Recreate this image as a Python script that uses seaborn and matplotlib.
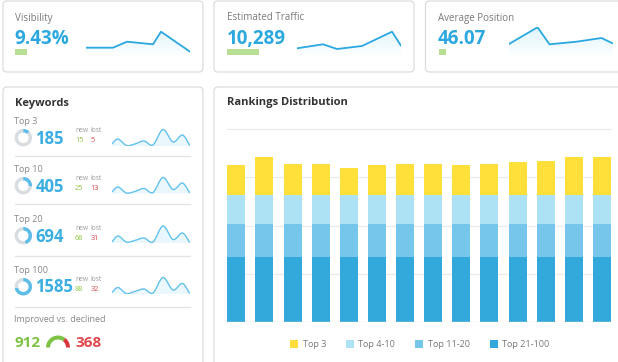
import numpy as np
import pandas as pd
import matplotlib
matplotlib.use("Agg")
import matplotlib.pyplot as plt
import seaborn as sns
from matplotlib.patches import FancyBboxPatch, Wedge, Rectangle, PathPatch, Patch
from matplotlib.path import Path
from matplotlib.colors import LinearSegmentedColormap

sns.set_theme(style="white")
plt.rcParams["font.family"] = ["Open Sans", "DejaVu Sans"]

# ---------------- data ----------------
card_titles = ["Visibility", "Estimated Traffic", "Average Position"]
card_values = ["9.43%", "10,289", "46.07"]
card_change = [12, 32, 7]

vis_x = [0, 27, 41, 67, 75, 104]
vis_vals = [10.3, 10.3, 16.3, 13.7, 26.3, 6.3]
traffic_x = [0, 26, 40, 65, 95, 104]
traffic_vals = [9.7, 13.7, 9.0, 12.0, 26.3, 12.3]
pos_x = [0, 29, 41, 68, 93, 104]
pos_vals = [13.7, 30.7, 13.7, 16.3, 20.0, 14.7]

kw_labels = ["Top 3", "Top 10", "Top 20", "Top 100"]
kw_counts = ["185", "405", "694", "1585"]
kw_new = ["15", "25", "68", "88"]
kw_lost = ["5", "13", "31", "32"]
kw_share = [0.12, 0.26, 0.45, 0.72]
kw_x = [0, 6, 14.4, 22.7, 32, 41, 51, 61, 70.4, 77.7]
kw_trend1 = [2.0, 7.0, 0.5, 2.0, 5.0, 1.0, 16.5, 4.0, 11.0, 0.5]
kw_trend2 = [1.5, 6.5, 0.5, 2.0, 5.0, 1.0, 16.0, 4.0, 10.5, 0.5]
kw_trend3 = [1.0, 7.0, 1.0, 2.5, 5.0, 1.0, 17.0, 3.5, 10.0, 0.5]
kw_trend4 = [1.5, 6.5, 0.5, 2.5, 5.0, 1.0, 16.5, 4.0, 10.5, 0.5]
improved = 912
declined = 368

periods = [f"P{i}" for i in range(1, 15)]
top3 = [62, 79, 63, 63, 55, 62, 63, 63, 62, 63, 67, 70, 78, 78]
top4_10 = [60] * 14
top11_20 = [69] * 14
top21_100 = [135] * 14
series_names = ["Top 3", "Top 4-10", "Top 11-20", "Top 21-100"]
series_colors = ["#FFE03A", "#ADE2F5", "#75C6EA", "#33A9DB"]

# ---------------- figure ----------------
W, H = 618, 362
fig = plt.figure(figsize=(W / 100, H / 100), dpi=100)
fig.patch.set_facecolor("white")

bg = fig.add_axes([0, 0, 1, 1])
bg.set_xlim(0, W)
bg.set_ylim(H, 0)
bg.axis("off")
bg.set_zorder(0)


def fax(x0, y0, x1, y1, z=2):
    a = fig.add_axes([x0 / W, 1 - y1 / H, (x1 - x0) / W, (y1 - y0) / H])
    a.set_zorder(z)
    a.patch.set_alpha(0)
    a.axis("off")
    return a


def card(x0, y0, x1, y1):
    bg.add_patch(FancyBboxPatch((x0, y0), x1 - x0, y1 - y0,
                                boxstyle="round,pad=0,rounding_size=4",
                                ec="#dcdcdc", fc="white", lw=0.9))


BLUE = "#2BA8E0"
GREY = "#7a7a7a"
DARK = "#333333"
GREEN_T = "#7DC243"
RED_T = "#E0474C"

# top cards
card(3, 1, 203, 72)
card(214, 1, 414, 72)
card(425.5, 1, 640, 72)
card(3, 87, 203, 420)
card(214, 87, 640, 420)

card_x = [15, 227.3, 438.5]
for i in range(3):
    bg.text(card_x[i], 20.5, card_titles[i], fontsize=7, color=GREY, va="baseline", ha="left")
    bg.text(card_x[i] - 0.5, 44, card_values[i], fontsize=13.5, fontweight="bold",
            color=BLUE, va="baseline", ha="left")
    bg.add_patch(Rectangle((card_x[i], 49.3), card_change[i], 6, fc="#B8DE92", ec="none"))

cmap = LinearSegmentedColormap.from_list("g", ["#ffffff", "#dff5fd"])


def spark(ax, x, y, ytop):
    ax.fill_between(x, y, 0, color="none", lw=0)
    poly = ax.collections[-1]
    grad = np.linspace(1, 0, 256).reshape(-1, 1)
    im = ax.imshow(grad, extent=[min(x), max(x), 0, ytop], origin="upper",
                   aspect="auto", cmap=cmap, vmin=0, vmax=1, zorder=1)
    im.set_clip_path(poly.get_paths()[0], transform=ax.transData)
    sns.lineplot(x=x, y=y, ax=ax, color=BLUE, lw=1.3, zorder=3)
    ax.set_xlim(min(x), max(x))
    ax.set_ylim(0, ytop)
    ax.axis("off")


spark(fax(86, 27, 190, 58), vis_x, vis_vals, 31)
spark(fax(297, 27, 401, 58), traffic_x, traffic_vals, 31)
spark(fax(508.5, 27, 612.5, 58), pos_x, pos_vals, 31)

# ---------------- keywords panel ----------------
bg.text(15.5, 105.7, "Keywords", fontsize=8, fontweight="bold", color=DARK, va="baseline")
label_base = [123.7, 172.3, 221.5, 272.7]
donut_y = [137.7, 185.7, 235.7, 286.7]
spark_base = [146, 193.5, 243, 294]
sep_y = [155.7, 204, 255.7, 307]
trends = [kw_trend1, kw_trend2, kw_trend3, kw_trend4]


def smooth(x, y):
    pts = np.column_stack([x, y]).astype(float)
    verts = [pts[0]]
    codes = [Path.MOVETO]
    n = len(pts)
    for i in range(n - 1):
        p0 = pts[max(i - 1, 0)]
        p1 = pts[i]
        p2 = pts[i + 1]
        p3 = pts[min(i + 2, n - 1)]
        verts += [p1 + (p2 - p0) / 6, p2 - (p3 - p1) / 6, p2]
        codes += [Path.CURVE4] * 3
    return verts, codes


for i in range(4):
    yc = donut_y[i]
    bg.text(13.7, label_base[i], kw_labels[i], fontsize=6.5, color="#888888", va="baseline")
    bg.add_patch(Wedge((23.3, yc), 8.7, 0, 360, width=3.4, fc="#D8DDE2", ec="none"))
    bg.add_patch(Wedge((23.3, yc), 8.7, -90, -90 + 360 * kw_share[i], width=3.4,
                       fc="#5CBDE9", ec="none"))
    bg.text(35.5, yc + 5.8, kw_counts[i], fontsize=12, fontweight="bold", color="#3AAEE2",
            va="baseline")
    bg.text(75, yc - 5.4, "new", fontsize=4.8, color="#999999", va="baseline")
    bg.text(90.5, yc - 5.4, "lost", fontsize=4.8, color="#999999", va="baseline")
    bg.text(75, yc + 4.0, kw_new[i], fontsize=5.3, color="#8DC63F", va="baseline")
    bg.text(90.5, yc + 4.0, kw_lost[i], fontsize=5.3, color=RED_T, va="baseline")
    bg.plot([15, 190], [sep_y[i], sep_y[i]], color="#E4E4E4", lw=1)

    ax = fax(112, spark_base[i] - 18, 190, spark_base[i])
    v, c = smooth(kw_x, trends[i])
    fv = v + [(kw_x[-1], 0), (kw_x[0], 0), (kw_x[0], trends[i][0])]
    fc_ = c + [Path.LINETO, Path.LINETO, Path.CLOSEPOLY]
    ax.add_patch(PathPatch(Path(fv, fc_), fc="#EAF8FD", ec="none", zorder=1))
    ax.add_patch(PathPatch(Path(v, c), fill=False, ec="#62C2EC", lw=1.0, zorder=2))
    ax.set_xlim(0, 78)
    ax.set_ylim(0, 18)

bg.text(13.7, 322, "Improved vs. declined", fontsize=6.5, color="#888888", va="baseline")
bg.text(14.5, 346.7, str(improved), fontsize=11, fontweight="bold", color=GREEN_T,
        va="baseline")
bg.text(75.5, 346.7, str(declined), fontsize=11, fontweight="bold", color=RED_T,
        va="baseline")
g = improved / (improved + declined)
bg.add_patch(Wedge((58, 347.5), 12, -180, -180 * (1 - g), width=4, fc="#7DC243", ec="none"))
bg.add_patch(Wedge((58, 347.5), 12, -180 * (1 - g), 0, width=4, fc="#D9363E", ec="none"))

# ---------------- rankings distribution ----------------
bg.text(227.3, 105.2, "Rankings Distribution", fontsize=8, fontweight="bold", color=DARK,
        va="baseline")

rax = fig.add_axes([227.3 / W, 1 - 321.7 / H, 383.7 / W, 192.4 / H])
rax.set_zorder(2)
rax.patch.set_alpha(0)

df = pd.DataFrame({"period": periods, "top3": top3, "top4_10": top4_10,
                   "top11_20": top11_20, "top21_100": top21_100})
df["c4"] = df["top21_100"]
df["c3"] = df["c4"] + df["top11_20"]
df["c2"] = df["c3"] + df["top4_10"]
df["c1"] = df["c2"] + df["top3"]

for col, colr in zip(["c1", "c2", "c3", "c4"], series_colors):
    sns.barplot(data=df, x="period", y=col, color=colr, saturation=1, width=0.64,
                linewidth=0, ax=rax, zorder=2)

rax.set_xlim(-0.32, 13.32)
rax.set_ylim(0, 400)
for yv in [100, 200, 300, 400]:
    rax.axhline(yv, color="#EBEBEB", lw=0.9, zorder=0, clip_on=False)
rax.axhline(0, color="#DCDCDC", lw=1, zorder=3)
rax.set_xticks([])
rax.set_yticks([])
rax.set_xlabel("")
rax.set_ylabel("")
for s in rax.spines.values():
    s.set_visible(False)

handles = [Patch(fc=c, ec="none") for c in series_colors]
fig.legend(handles, series_names, loc="center", bbox_to_anchor=(419.7 / W, 1 - 344.5 / H),
           ncol=4, frameon=False, fontsize=6.5, handlelength=0.9, handleheight=0.9,
           handletextpad=0.5, columnspacing=2.2, labelcolor="#777777")

fig.savefig("out.png", dpi=100, facecolor="white")
